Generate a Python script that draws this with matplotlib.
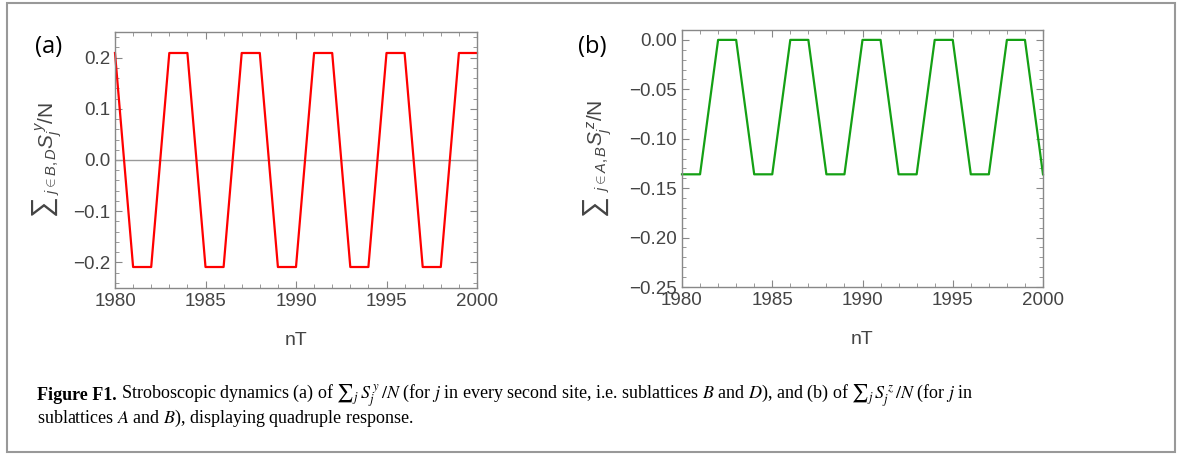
import matplotlib.pyplot as plt
from matplotlib.patches import Rectangle
from matplotlib.ticker import MultipleLocator

plt.rcParams['font.family'] = ['Liberation Sans', 'DejaVu Sans']
plt.rcParams['mathtext.fontset'] = 'custom'
plt.rcParams['mathtext.rm'] = 'Liberation Sans'
plt.rcParams['mathtext.it'] = 'Liberation Sans:italic'

# stroboscopic time steps
nT = [1980, 1981, 1982, 1983, 1984, 1985, 1986, 1987, 1988, 1989, 1990,
      1991, 1992, 1993, 1994, 1995, 1996, 1997, 1998, 1999, 2000]
# (a) sum of S^y over sublattices B, D
sy = [0.209, -0.209, -0.209, 0.209, 0.209, -0.209, -0.209, 0.209, 0.209, -0.209, -0.209,
      0.209, 0.209, -0.209, -0.209, 0.209, 0.209, -0.209, -0.209, 0.209, 0.209]
# (b) sum of S^z over sublattices A, B
sz = [-0.136, -0.136, 0.0, 0.0, -0.136, -0.136, 0.0, 0.0, -0.136, -0.136, 0.0,
      0.0, -0.136, -0.136, 0.0, 0.0, -0.136, -0.136, 0.0, 0.0, -0.136]

W, H = 1182, 455
fig = plt.figure(figsize=(W / 100, H / 100), dpi=100)
SUM = '\u2211'
GREY = '#444444'

def px_axes(x0, y0, x1, y1):
    return fig.add_axes([x0 / W, 1 - y1 / H, (x1 - x0) / W, (y1 - y0) / H])

def style(ax):
    for s in ax.spines.values():
        s.set_color('#888888')
        s.set_linewidth(1.0)
    ax.tick_params(which='both', direction='in', top=True, right=True,
                   color='#888888', labelcolor=GREY, labelsize=13.5)
    ax.tick_params(which='major', length=5, width=0.8)
    ax.tick_params(which='minor', length=3, width=0.6)
    ax.xaxis.set_major_locator(MultipleLocator(5))
    ax.xaxis.set_minor_locator(MultipleLocator(1))
    ax.set_xlim(1980, 2000)
    ax.set_xlabel('nT', fontsize=14, color=GREY, labelpad=16)

def ylabel(x_sum, y_sum, x_rest, y_rest, sub, sup):
    # big sum sign + rest of the label, both rotated
    fig.text(x_sum / W, 1 - y_sum / H, SUM, fontsize=21, color=GREY, rotation=90,
             ha='center', va='bottom')
    fig.text(x_rest / W, 1 - y_rest / H, '${}_{' + sub + r'}S_j^{\,' + sup + '}$/N',
             fontsize=15, color=GREY, rotation=90, ha='center', va='bottom')

ax1 = px_axes(115, 32, 477, 288)
ax1.axhline(0, color='#999999', lw=1.0)
ax1.plot(nT, sy, color='#ff0000', lw=1.6, clip_on=False)
ax1.set_ylim(-0.25, 0.25)
ax1.yaxis.set_major_locator(MultipleLocator(0.1))
ax1.yaxis.set_minor_locator(MultipleLocator(0.02))
style(ax1)
ax1.yaxis.set_major_formatter(plt.FuncFormatter(lambda v, p: f'{v:.1f}'.replace('-', '\u2212')))
ylabel(42, 215, 49, 195, r'j\in B,D', 'y')

ax2 = px_axes(682, 30, 1043, 287)
ax2.plot(nT, sz, color='#14a014', lw=1.6, clip_on=False)
ax2.set_ylim(-0.25, 0.01)
ax2.yaxis.set_major_locator(MultipleLocator(0.05))
ax2.yaxis.set_minor_locator(MultipleLocator(0.01))
style(ax2)
ax2.yaxis.set_major_formatter(plt.FuncFormatter(lambda v, p: f'{v:.2f}'.replace('-', '\u2212')))
ylabel(593, 215, 600, 192, r'j\in A,B', 'z')

fig.text(35 / W, 1 - 47 / H, '(a)', fontsize=17, family='Open Sans', va='center')
fig.text(578 / W, 1 - 47 / H, '(b)', fontsize=17, family='Open Sans', va='center')

# border around the figure
fig.patches.append(Rectangle((7 / W, 3 / H), 1168 / W, 449 / H, transform=fig.transFigure,
                             fill=False, edgecolor='#999999', lw=1.5))

# caption
cap = dict(fontsize=13, family='Liberation Serif', va='baseline', math_fontfamily='stix')
r = fig.canvas.get_renderer()
t0 = fig.text(37 / W, 1 - 400 / H, 'Figure F1.', weight='bold', **cap)
bb = t0.get_window_extent(r)
fig.text(bb.x1 / W + 4 / W, 1 - 400 / H,
         'Stroboscopic dynamics (a) of $' + SUM + r'_j\,S_j^{\,y}\,/N$ (for $j$ in every second site, i.e. sublattices $B$ and $D$), and (b) of $' + SUM + r'_j\,S_j^{\,z}\,/N$ (for $j$ in',
         **cap)
fig.text(37 / W, 1 - 423 / H,
         r'sublattices $A$ and $B$), displaying quadruple response.', **cap)

fig.savefig('out.png', dpi=100)
